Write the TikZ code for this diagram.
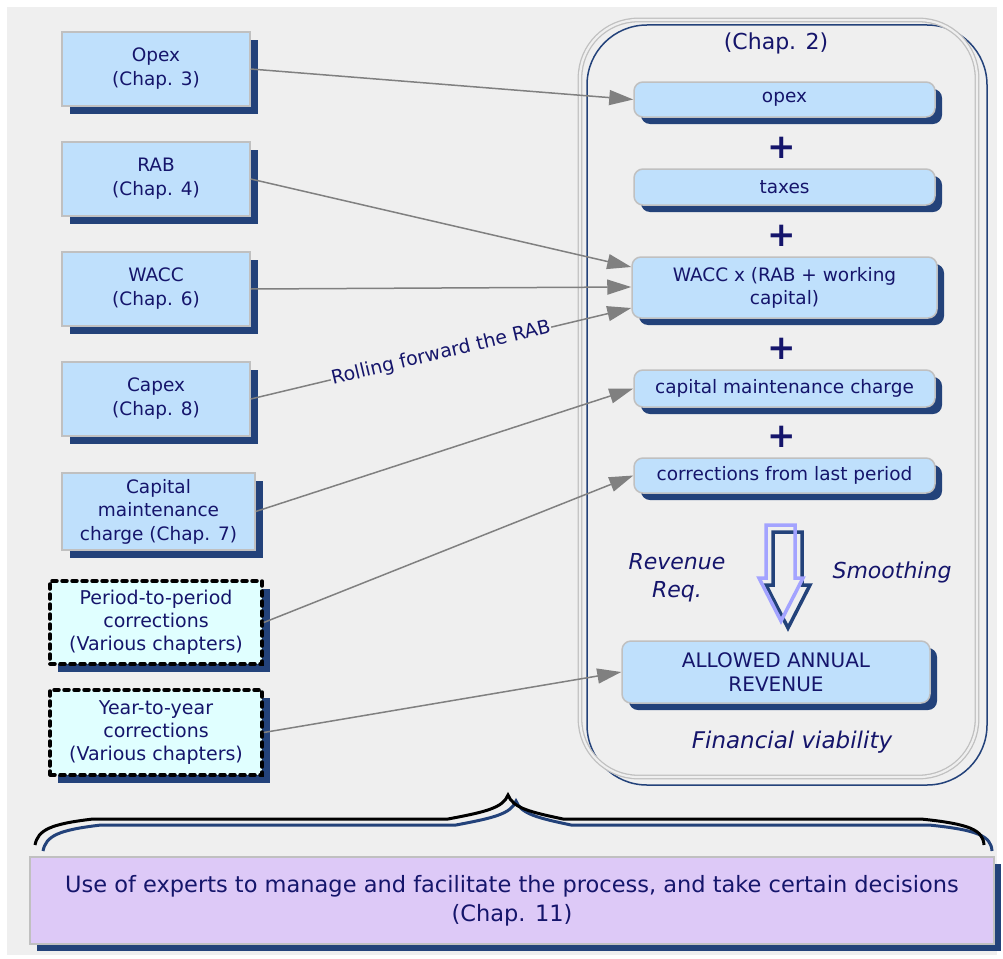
\documentclass[tikz,border=0pt]{standalone}
\usepackage{fontspec}
\setmainfont{DejaVu Sans}
\usetikzlibrary{arrows.meta,shadows}

\definecolor{bggrey}{HTML}{EFEFEF}
\definecolor{boxblue}{HTML}{BFE0FC}
\definecolor{boxline}{HTML}{C0C0C0}
\definecolor{shadenavy}{HTML}{23427A}
\definecolor{textnavy}{HTML}{15156B}
\definecolor{corrcyan}{HTML}{E0FFFF}
\definecolor{lavender}{HTML}{DDC9F7}
\definecolor{feedgrey}{HTML}{808080}
\definecolor{lilac}{HTML}{A3A3FF}

\tikzset{
  navyshadow/.style={general shadow={fill=shadenavy,shadow xshift=8pt,shadow yshift=-8pt}},
  leftbox/.style={draw=boxline,line width=1.5pt,fill=boxblue,text=textnavy,align=center,
    inner sep=2pt,font=\fontsize{18.5}{24}\selectfont,navyshadow},
  corrbox/.style={draw=black,line width=3.5pt,dash pattern=on 5pt off 5pt,line cap=round,
    fill=corrcyan,text=textnavy,align=center,font=\fontsize{19}{23}\selectfont,
    inner sep=2pt,minimum width=212pt,navyshadow},
  sumbox/.style={draw=boxline,line width=1.5pt,fill=boxblue,text=textnavy,align=center,
    rounded corners=9pt,minimum width=301pt,inner sep=2pt,font=\fontsize{18.5}{23}\selectfont,
    general shadow={fill=shadenavy,shadow xshift=7pt,shadow yshift=-7pt}},
  plus/.style={text=textnavy,font=\fontsize{34}{34}\selectfont\bfseries},
  feed/.style={draw=feedgrey,line width=1.5pt,-{Triangle[length=24pt,width=15pt]}},
  note/.style={text=textnavy,font=\fontsize{22}{28}\selectfont\itshape,align=center}
}

\begin{document}
\begin{tikzpicture}[x=1pt,y=-1pt]
  \useasboundingbox (0,0) rectangle (1003,958);
  \fill[bggrey] (7,7) rectangle (997,955);

  % Chap. 2 frame
  \draw[shadenavy,line width=1.5pt,rounded corners=60pt] (587,25) rectangle (987,785);
  \draw[boxline,line width=1.3pt,double=bggrey,double distance=2.2pt,rounded corners=58pt]
      (580,20) rectangle (977,777);
  \node[text=textnavy,font=\fontsize{22}{26}\selectfont] (chap2) at (776,43) {(Chap. 2)};

  % inputs
  \node[leftbox,minimum width=188pt,minimum height=74pt] (opexin)  at (156,69)  {Opex\\(Chap. 3)};
  \node[leftbox,minimum width=188pt,minimum height=74pt] (rabin)   at (156,179) {RAB\\(Chap. 4)};
  \node[leftbox,minimum width=188pt,minimum height=74pt] (waccin)  at (156,289) {WACC\\(Chap. 6)};
  \node[leftbox,minimum width=188pt,minimum height=74pt] (capexin) at (156,399) {Capex\\(Chap. 8)};
  \node[leftbox,minimum width=193pt,minimum height=77pt,font=\fontsize{18.5}{23.5}\selectfont]
      (cmcin) at (158.5,511.5) {Capital\\maintenance\\charge (Chap. 7)};
  \node[corrbox,minimum height=83pt] (ppcorr) at (156,622.5)
      {Period-to-period\\corrections\\(Various chapters)};
  \node[corrbox,minimum height=85pt] (yycorr) at (156,732.5)
      {Year-to-year\\corrections\\(Various chapters)};

  % building blocks
  \node[sumbox,minimum height=35pt] (opex)  at (784.5,99.5) {opex};
  \node[plus] (plusa) at (782,148) {+};
  \node[sumbox,minimum height=36pt] (taxes) at (784.5,187) {taxes};
  \node[plus] (plusb) at (782,236) {+};
  \node[sumbox,minimum height=61pt,minimum width=305pt] (wacc) at (784.5,287.5)
      {WACC x (RAB + working\\capital)};
  \node[plus] (plusc) at (782,349) {+};
  \node[sumbox,minimum height=37pt] (cmc)   at (784.5,388.5) {capital maintenance charge};
  \node[plus] (plusd) at (782,437) {+};
  \node[sumbox,minimum height=35pt] (corr)  at (784.5,475.5) {corrections from last period};
  \node[sumbox,minimum height=62pt,minimum width=308pt,font=\fontsize{20}{24}\selectfont]
      (allowed) at (776,672) {ALLOWED ANNUAL\\REVENUE};

  % hollow arrow
  \draw[shadenavy,line width=3.5pt,line join=miter]
      (773,532) -- (802,532) -- (802,585) -- (810,585) -- (788,628) -- (766,585) -- (773,585) -- cycle;
  \draw[lilac,line width=3.5pt,line join=miter]
      (766,525) -- (795,525) -- (795,578) -- (803,578) -- (781,621) -- (759,578) -- (766,578) -- cycle;
  \node[note] (revreq) at (677,578) {Revenue\\Req.};
  \node[note] (smooth) at (892,572) {Smoothing};
  \node[note,font=\fontsize{23}{26}\selectfont\itshape] (viable) at (792,742) {Financial viability};

  % feeds
  \draw[feed] (opexin.east) -- (opex.west);
  \draw[feed] (rabin.east) -- (wacc.west|-{(0,267)});
  \draw[feed] (waccin.east) -- (wacc.west|-{(0,287)});
  \draw[feed] (capexin.east) -- node[sloped,fill=bggrey,inner sep=1pt,text=textnavy,
      font=\fontsize{19}{22}\selectfont,pos=0.5] (rollrab) {Rolling forward the RAB}
      (wacc.west|-{(0,308)});
  \draw[feed] (cmcin.east) -- (cmc.west);
  \draw[feed] (ppcorr.east) -- (corr.west);
  \draw[feed] (yycorr.east) -- (allowed.west);

  % brace
  \draw[shadenavy,line width=3pt,shift={(8pt,-6pt)}]
      (35,845) .. controls (38,830) and (50,824) .. (93,819) -- (448,819)
      .. controls (485,812) and (503,808) .. (508,795)
      .. controls (513,808) and (530,812) .. (563,819) -- (921,819)
      .. controls (970,824) and (983,830) .. (984,845);
  \draw[black,line width=3pt]
      (35,845) .. controls (38,830) and (50,824) .. (93,819) -- (448,819)
      .. controls (485,812) and (503,808) .. (508,795)
      .. controls (513,808) and (530,812) .. (563,819) -- (921,819)
      .. controls (970,824) and (983,830) .. (984,845);

  % experts
  \node[draw=boxline,line width=1.5pt,fill=lavender,text=textnavy,align=center,
      minimum width=964pt,minimum height=87pt,font=\fontsize{22.5}{29}\selectfont,
      general shadow={fill=shadenavy,shadow xshift=7pt,shadow yshift=-7pt}] (experts) at (512,900.5)
      {Use of experts to manage and facilitate the process, and take certain decisions\\(Chap. 11)};
\end{tikzpicture}
\end{document}
